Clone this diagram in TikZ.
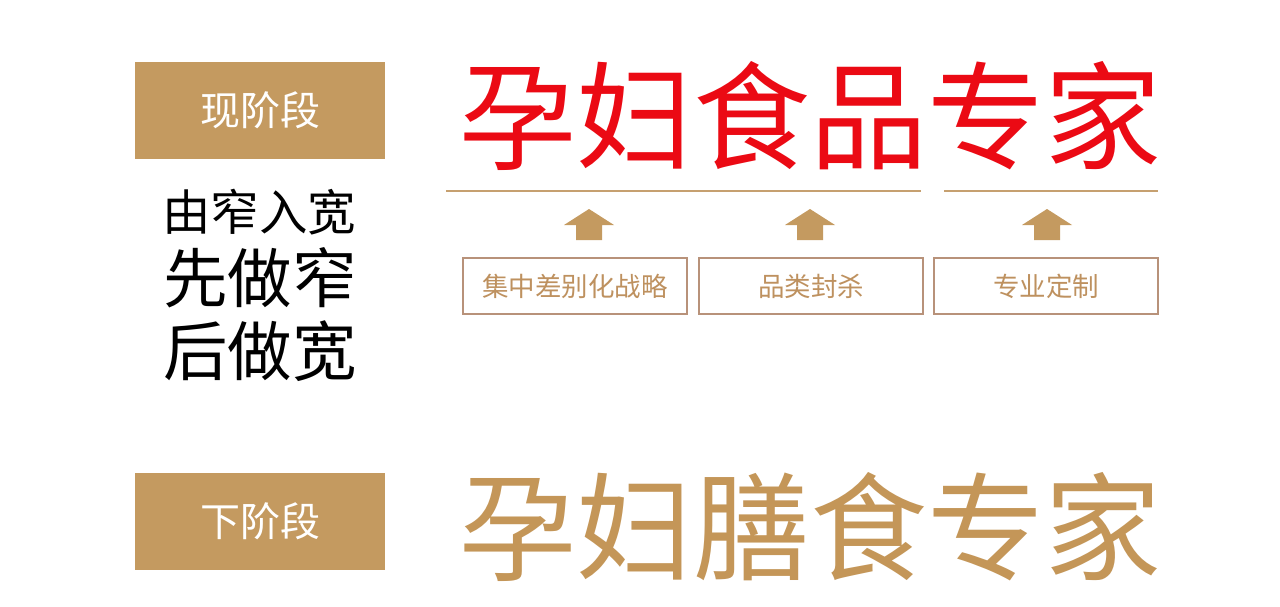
\documentclass[tikz,border=0pt]{standalone}
\usepackage{fontspec}
\newfontfamily\cjk{Noto Sans CJK SC}
\definecolor{tan}{RGB}{196,154,96}
\definecolor{tantext}{RGB}{196,150,88}
\definecolor{linetan}{RGB}{198,160,112}
\definecolor{boxline}{RGB}{184,146,122}
\definecolor{lbltext}{RGB}{190,145,95}
\definecolor{titlered}{RGB}{235,10,20}
\tikzset{
  stagebox/.style={fill=tan, draw=none, minimum width=250pt, minimum height=97pt, inner sep=0pt,
    text=white, font=\cjk\fontsize{40}{40}\selectfont},
  lblbox/.style={draw=boxline, line width=1.2pt, fill=white, minimum width=224pt, minimum height=56pt,
    inner sep=0pt, text=lbltext, font=\cjk\fontsize{26.5}{26.5}\selectfont},
  uparrow/.style={fill=tan, draw=none},
  rule/.style={draw=linetan, line width=2pt},
  plain/.style={inner sep=0pt}
}
\begin{document}
\begin{tikzpicture}[x=1pt,y=-1pt]
\useasboundingbox (0,0) rectangle (1280,606);
\fill[white] (0,0) rectangle (1280,606);
% stage boxes
\node[stagebox] (now) at (260,110.5) {现阶段};
\node[stagebox] (next) at (260,521) {下阶段};
% left texts
\node[plain, font=\cjk\fontsize{48.5}{48.5}\selectfont] (t1) at (259,212) {由窄入宽};
\node[plain, font=\cjk\fontsize{64.5}{64.5}\selectfont] (t2) at (260,278) {先做窄};
\node[plain, font=\cjk\fontsize{64.5}{64.5}\selectfont] (t3) at (260,351) {后做宽};
% titles
\node[plain, text=titlered, font=\cjk\fontsize{117}{117}\selectfont] (title1) at (810.5,116) {孕妇食品专家};
\node[plain, text=tantext, font=\cjk\fontsize{117}{117}\selectfont] (title2) at (810.5,527) {孕妇膳食专家};
% rules
\coordinate (r1a) at (446,191);
\coordinate (r1b) at (921,191);
\coordinate (r2a) at (944,191);
\coordinate (r2b) at (1158,191);
\draw[rule] (r1a) -- (r1b);
\draw[rule] (r2a) -- (r2b);
% label boxes
\node[lblbox] (b1) at (575,286) {集中差别化战略};
\node[lblbox] (b2) at (811,286) {品类封杀};
\node[lblbox] (b3) at (1046,286) {专业定制};
% arrows
\foreach \cx/\nm in {589/a1,810/a2,1047/a3}{
  \fill[uparrow] (\cx,209) -- (\cx+25,225) -- (\cx+13,225) -- (\cx+13,240)
     -- (\cx-13,240) -- (\cx-13,225) -- (\cx-25,225) -- cycle;
}
\end{tikzpicture}
\end{document}
